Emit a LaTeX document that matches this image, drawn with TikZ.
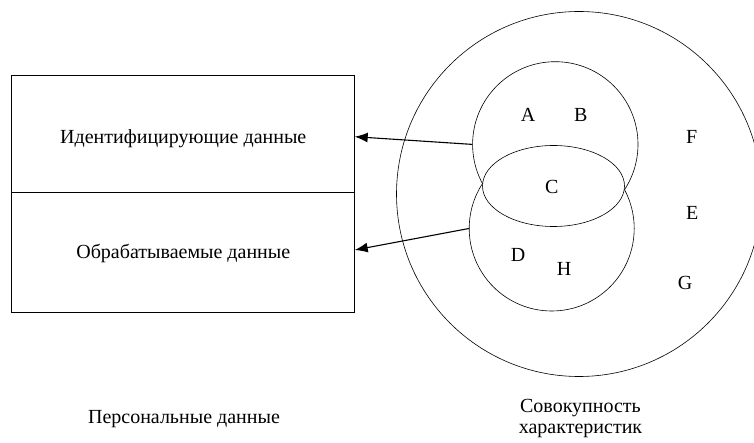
\documentclass[tikz,border=0pt]{standalone}
\usepackage{fontspec}
\setmainfont{Liberation Serif}
\usetikzlibrary{arrows.meta,shapes.geometric,positioning}
\tikzset{
    block/.style = {draw, rectangle, line width=0.8pt,
        minimum width=342.6pt, inner sep=0pt},
    txt/.style = {anchor=base, inner sep=0pt, font=\fontsize{20}{22}\selectfont},
    lbl/.style = {inner sep=0pt, text depth=0pt, font=\fontsize{20}{22}\selectfont},
    circ/.style = {draw, circle, line width=0.6pt, inner sep=0pt},
    inter/.style = {draw, ellipse, fill=white, line width=0.6pt, inner sep=0pt},
    arrow/.style = {draw, ->, line width=1.1pt}
}

\begin{document}
\begin{tikzpicture}[x=1pt, y=-1pt, >={Latex[length=13pt,width=10pt]}]
    \useasboundingbox (0,0) rectangle (754,443);
    % box with the two kinds of data
    \node [block, minimum height=116.6pt] (ident) at (183,134) {};
    \node [block, minimum height=120pt] (proc) at (183,252.3) {};
    \node [txt] (identtxt) at (183.3,143.3) {Идентифицирующие данные};
    \node [txt] (proctxt) at (183.3,259) {Обрабатываемые данные};
    \node [txt] (pers) at (184,423) {Персональные данные};
    % sets of characteristics
    \node [circ, minimum size=365pt] (all) at (579,194) {};
    \node [circ, minimum size=165.4pt] (top) at (555.3,144.4) {};
    \node [circ, fill=white, minimum size=165pt] (bot) at (551.7,228.5) {};
    \node [inter, minimum width=142pt, minimum height=81pt] (mid) at (553.5,186) {};
    \node [txt, align=center] (set) at (580.5,433) {Совокупность\\[-1pt]характеристик};
    \node [lbl] (a) at (528,115) {A};
    \node [lbl] (b) at (580.7,115) {B};
    \node [lbl] (c) at (551.7,186.7) {C};
    \node [lbl] (d) at (518,255) {D};
    \node [lbl] (h) at (564,269) {H};
    \node [lbl] (f) at (691.7,136.7) {F};
    \node [lbl] (e) at (692.3,213.3) {E};
    \node [lbl] (g) at (685,282.7) {G};
    % links
    \draw [arrow] (top.west) -- ([yshift=-2.7pt]ident.east);
    \draw [arrow] (bot.west) -- ([yshift=2.3pt]proc.east);
\end{tikzpicture}
\end{document}
